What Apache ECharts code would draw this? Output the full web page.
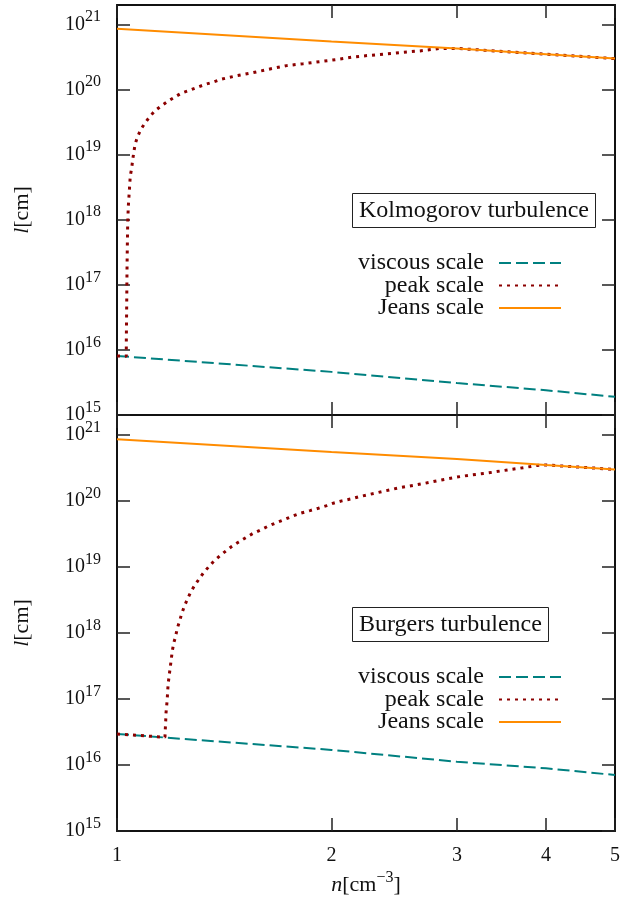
<!DOCTYPE html>
<html>
<head>
<meta charset="utf-8">
<script src="https://cdn.jsdelivr.net/npm/echarts@6/dist/echarts.min.js"></script>
<style>
html,body{margin:0;padding:0;background:#fff;}
#chart{width:624px;height:902px;}
</style>
</head>
<body>
<div id="chart"></div>
<script>
// ---------- data ----------
const seriesNames = ['viscous scale', 'peak scale', 'Jeans scale'];
const panelTitles = ['Kolmogorov turbulence', 'Burgers turbulence'];
const xTicks = [1, 2, 3, 4, 5];
const yTicks = [1e15, 1e16, 1e17, 1e18, 1e19, 1e20, 1e21];

const nJeans = [1, 2, 3, 4, 5];
const jeansScale = [8.6e20, 5.5e20, 4.3e20, 3.5e20, 3.0e20];

const nViscous = [1, 2, 3, 4, 5];
const viscousKolmogorov = [8.1e15, 4.6e15, 3.1e15, 2.4e15, 1.9e15];
const viscousBurgers = [2.95e16, 1.69e16, 1.12e16, 8.9e15, 7.05e15];

const nPeakKolmogorov = [1, 1.0305, 1.0306, 1.0319, 1.0329, 1.0339, 1.0352, 1.0372, 1.0405, 1.0439,
  1.0487, 1.0520, 1.0599, 1.0678, 1.0796, 1.0947, 1.1126, 1.1306, 1.1553, 1.1781,
  1.2035, 1.2325, 1.2632, 1.2940, 1.3248, 1.3654, 1.4028, 1.4724, 1.5535, 1.6396,
  1.7305, 1.8255, 1.9277, 2.034, 2.146, 2.265, 2.391, 2.523, 2.662, 2.84, 3, 4, 5];
const peakKolmogorov = [8.1e15, 8.0e15, 1.43e16, 5.28e16, 1.70e17, 3.88e17, 8.89e17, 1.60e18, 2.72e18, 4.75e18,
  6.24e18, 8.38e18, 1.43e19, 1.85e19, 2.43e19, 3.08e19, 3.88e19, 4.75e19, 5.68e19, 6.61e19,
  7.62e19, 8.89e19, 9.75e19, 1.08e20, 1.19e20, 1.31e20, 1.45e20, 1.64e20, 1.83e20, 2.08e20,
  2.34e20, 2.51e20, 2.70e20, 2.90e20, 3.18e20, 3.37e20, 3.54e20, 3.75e20, 3.94e20, 4.3e20, 4.3e20, 3.5e20, 3.0e20];

const nPeakBurgers = [1, 1.1677, 1.1689, 1.1704, 1.1715, 1.1742, 1.1765, 1.1780, 1.1803, 1.1841,
  1.1879, 1.1918, 1.1957, 1.2011, 1.2089, 1.2152, 1.2246, 1.2310, 1.2418, 1.2539,
  1.2674, 1.2838, 1.3022, 1.3216, 1.3433, 1.3669, 1.3948, 1.4223, 1.4502, 1.4819,
  1.5535, 1.5911, 1.6255, 1.6665, 1.7265, 1.7679, 1.8106, 1.8662, 1.9168, 1.9696,
  2.0122, 2.0676, 2.1285, 2.1815, 2.2364, 2.3023, 2.3650, 2.4222, 2.4822, 2.5506,
  2.6915, 2.8404, 2.9981, 3.1474, 3.3031, 3.4847, 3.6798, 3.8831, 3.95, 4, 5];
const peakBurgers = [2.95e16, 2.63e16, 3.48e16, 4.53e16, 6.07e16, 7.91e16, 1.03e17, 1.34e17, 1.77e17, 2.33e17,
  3.05e17, 4.04e17, 5.34e17, 6.98e17, 9.02e17, 1.18e18, 1.52e18, 1.87e18, 2.45e18, 3.16e18,
  4.04e18, 5.15e18, 6.43e18, 8.04e18, 9.89e18, 1.22e19, 1.48e19, 1.75e19, 2.06e19, 2.39e19,
  3.24e19, 3.64e19, 4.08e19, 4.59e19, 5.34e19, 5.93e19, 6.52e19, 7.13e19, 7.74e19, 8.49e19,
  9.23e19, 1.0e20, 1.07e20, 1.15e20, 1.22e20, 1.31e20, 1.40e20, 1.48e20, 1.57e20, 1.65e20,
  1.83e20, 2.06e20, 2.29e20, 2.48e20, 2.63e20, 2.88e20, 3.13e20, 3.43e20, 3.52e20, 3.5e20, 3.0e20];

// ---------- chart ----------
const FONT = 'Liberation Serif';
const INK = '#111';
const zip = (xs, ys) => xs.map((x, i) => [x, ys[i]]);

function xAxisCfg(gridIndex, position, showLabels) {
  return {
    type: 'log', logBase: 10, gridIndex, position, min: 1, max: 5,
    axisLine: { show: true, onZero: false, lineStyle: { color: INK, width: 2 } },
    axisTick: { show: true, inside: true, length: 13, customValues: xTicks, lineStyle: { color: '#222', width: 1.5 } },
    minorTick: { show: false }, splitLine: { show: false },
    axisLabel: showLabels ? {
      show: true, customValues: xTicks, margin: 15, color: INK, fontFamily: FONT, fontSize: 20,
      formatter: v => String(Math.round(v))
    } : { show: false },
    name: showLabels ? '{it|n}[cm{sup|\u22123}]' : '',
    nameLocation: 'middle', nameGap: 43,
    nameTextStyle: {
      color: INK, fontFamily: FONT, fontSize: 22,
      rich: {
        it: { fontFamily: FONT, fontSize: 22, fontStyle: 'italic', color: INK },
        sup: { fontFamily: FONT, fontSize: 16, color: INK, lineHeight: 16, padding: [0, 0, 14, 0] }
      }
    }
  };
}
function yAxisCfg(gridIndex, position, showLabels) {
  return {
    type: 'log', logBase: 10, gridIndex, position, min: 1e15, max: 2e21,
    axisLine: { show: true, onZero: false, lineStyle: { color: INK, width: 2 } },
    axisTick: { show: true, inside: true, length: 13, customValues: yTicks, lineStyle: { color: '#222', width: 1.5 } },
    minorTick: { show: false }, splitLine: { show: false },
    axisLabel: showLabels ? {
      show: true, customValues: yTicks, margin: 16, color: INK,
      formatter: v => '{b|10}{s|' + Math.round(Math.log10(v)) + '}',
      rich: {
        b: { fontFamily: FONT, fontSize: 20, color: INK, lineHeight: 20 },
        s: { fontFamily: FONT, fontSize: 16, color: INK, lineHeight: 16, padding: [0, 0, 15, 0] }
      }
    } : { show: false },
    name: showLabels ? '{it|l}[cm]' : '',
    nameLocation: 'middle', nameGap: 84,
    nameTextStyle: {
      color: INK, fontFamily: FONT, fontSize: 22,
      rich: { it: { fontFamily: FONT, fontSize: 22, fontStyle: 'italic', color: INK } }
    }
  };
}

const styles = {
  'viscous scale': { color: '#008080', width: 2, type: [12, 5], z: 2 },
  'peak scale': { color: '#8B0000', width: 3, type: [3, 5], z: 3 },
  'Jeans scale': { color: '#FF8C00', width: 2, type: 'solid', z: 4 }
};
function lineSeries(name, data, axisIndex) {
  const s = styles[name];
  return {
    name, type: 'line', data, xAxisIndex: axisIndex, yAxisIndex: axisIndex,
    symbol: 'none', showSymbol: false, z: s.z, animation: false,
    itemStyle: { color: s.color },
    lineStyle: { color: s.color, width: s.width, type: s.type, cap: 'butt' }
  };
}

function legendCfg(top) {
  return {
    data: seriesNames, orient: 'vertical', align: 'right', right: 62, top,
    padding: 0, itemGap: -1.5, itemWidth: 62, itemHeight: 14,
    itemStyle: { color: 'rgba(0,0,0,0)', borderColor: 'rgba(0,0,0,0)', borderWidth: 0, opacity: 0 },
    textStyle: { fontFamily: FONT, fontSize: 24, color: INK, padding: [0, 10, 0, 0] }
  };
}
function titleCfg(text, top) {
  return {
    text, left: 352, top, padding: [6, 7, 5, 7],
    borderColor: '#222', borderWidth: 1,
    textStyle: { fontFamily: FONT, fontSize: 24, fontWeight: 'normal', color: INK }
  };
}

const chart = echarts.init(document.getElementById('chart'), null, { renderer: 'canvas' });
chart.setOption({
  animation: false,
  backgroundColor: '#fff',
  title: [titleCfg(panelTitles[0], 193), titleCfg(panelTitles[1], 607)],
  legend: [legendCfg(251), legendCfg(665)],
  grid: [
    { left: 117, top: 5, width: 498, height: 410 },
    { left: 117, top: 415, width: 498, height: 416 }
  ],
  xAxis: [
    xAxisCfg(0, 'bottom', false),
    xAxisCfg(1, 'bottom', true),
    xAxisCfg(0, 'top', false),
    xAxisCfg(1, 'top', false)
  ],
  yAxis: [
    yAxisCfg(0, 'left', true),
    yAxisCfg(1, 'left', true),
    yAxisCfg(0, 'right', false),
    yAxisCfg(1, 'right', false)
  ],
  series: [
    lineSeries('viscous scale', zip(nViscous, viscousKolmogorov), 0),
    lineSeries('peak scale', zip(nPeakKolmogorov, peakKolmogorov), 0),
    lineSeries('Jeans scale', zip(nJeans, jeansScale), 0),
    lineSeries('viscous scale', zip(nViscous, viscousBurgers), 1),
    lineSeries('peak scale', zip(nPeakBurgers, peakBurgers), 1),
    lineSeries('Jeans scale', zip(nJeans, jeansScale), 1)
  ]
});
</script>
</body>
</html>
